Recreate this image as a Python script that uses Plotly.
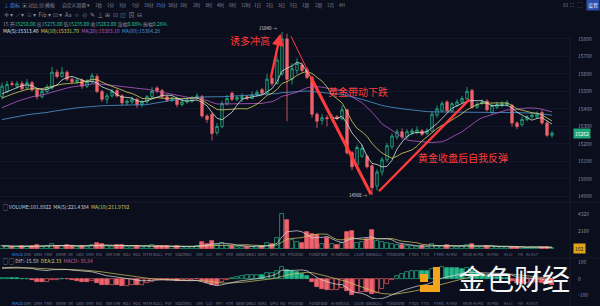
import pandas as pd
import plotly.graph_objects as go

W, H = 600, 306
PLOT_W = 570  # plot area width; right 30px hold the price scale

# ---- closes before the visible window (warm-up for the moving averages) ----
warmup_close = [15150, 15170, 15160, 15190, 15210, 15200, 15230, 15250, 15240, 15270,
                15290, 15280, 15310, 15330, 15320, 15350, 15370, 15360, 15390, 15400,
                15420, 15410, 15440, 15450, 15430, 15460, 15480, 15470, 15490, 15460]

# ---- visible candles ----
open_ = [15470, 15500, 15545, 15530, 15545, 15520, 15550, 15510, 15470, 15500,
         15520, 15610, 15585, 15610, 15570, 15555, 15565, 15530, 15555, 15585,
         15500, 15455, 15475, 15505, 15475, 15435, 15440, 15455, 15425, 15440,
         15470, 15520, 15505, 15470, 15450, 15460, 15425, 15440, 15445, 15460,
         15470, 15360, 15370, 15265, 15300, 15430, 15490, 15455, 15460, 15470,
         15460, 15480, 15510, 15490, 15575, 15545, 15600, 15800, 15570, 15620,
         15650, 15625, 15580, 15370, 15335, 15350, 15345, 15355, 15345, 15395,
         15150, 15080, 15130, 15130, 15075, 14960, 15040, 15110, 15185, 15240,
         15270, 15240, 15265, 15265, 15275, 15260, 15275, 15365, 15390, 15440,
         15390, 15420, 15440, 15460, 15505, 15410, 15430, 15445, 15380, 15410,
         15420, 15425, 15420, 15320, 15310, 15340, 15355, 15355, 15380, 15320,
         15250]
high = [15550, 15560, 15560, 15560, 15560, 15570, 15560, 15520, 15510, 15540,
        15640, 15625, 15640, 15620, 15580, 15575, 15575, 15570, 15605, 15600,
        15510, 15490, 15515, 15515, 15485, 15455, 15470, 15465, 15450, 15480,
        15525, 15530, 15515, 15480, 15470, 15470, 15455, 15460, 15475, 15490,
        15480, 15370, 15380, 15320, 15445, 15480, 15500, 15475, 15490, 15480,
        15500, 15510, 15520, 15600, 15585, 15700, 15840, 15830, 15660, 15690,
        15665, 15640, 15590, 15380, 15370, 15365, 15370, 15365, 15420, 15400,
        15160, 15195, 15195, 15140, 15085, 15055, 15125, 15205, 15260, 15285,
        15290, 15285, 15290, 15300, 15285, 15290, 15390, 15420, 15445, 15450,
        15440, 15455, 15475, 15525, 15515, 15440, 15455, 15455, 15430, 15440,
        15445, 15450, 15430, 15330, 15355, 15365, 15375, 15385, 15395, 15330,
        15275]
low = [15455, 15490, 15530, 15515, 15505, 15510, 15500, 15455, 15460, 15490,
       15510, 15575, 15580, 15560, 15545, 15545, 15515, 15520, 15545, 15490,
       15440, 15430, 15465, 15465, 15420, 15420, 15430, 15405, 15410, 15430,
       15460, 15490, 15460, 15440, 15440, 15410, 15415, 15430, 15435, 15455,
       15350, 15320, 15220, 15250, 15290, 15420, 15445, 15445, 15440, 15450,
       15455, 15470, 15480, 15485, 15530, 15540, 15590, 15330, 15540, 15600,
       15610, 15570, 15350, 15290, 15310, 15300, 15330, 15335, 15335, 15140,
       15050, 15070, 15120, 15060, 14908, 14935, 15020, 15095, 15170, 15225,
       15225, 15230, 15250, 15255, 15245, 15250, 15270, 15350, 15385, 15380,
       15380, 15410, 15430, 15450, 15400, 15400, 15425, 15385, 15370, 15400,
       15410, 15415, 15300, 15285, 15300, 15330, 15345, 15345, 15310, 15240,
       15235]
close = [15530, 15540, 15540, 15545, 15515, 15550, 15510, 15470, 15500, 15525,
         15610, 15585, 15610, 15570, 15555, 15565, 15530, 15555, 15590, 15500,
         15455, 15475, 15500, 15475, 15435, 15445, 15455, 15425, 15440, 15470,
         15500, 15505, 15470, 15450, 15460, 15425, 15440, 15450, 15465, 15475,
         15360, 15340, 15260, 15300, 15430, 15460, 15455, 15465, 15470, 15462,
         15480, 15495, 15490, 15570, 15545, 15680, 15800, 15570, 15630, 15660,
         15620, 15580, 15370, 15330, 15350, 15345, 15355, 15345, 15395, 15150,
         15070, 15180, 15175, 15070, 14950, 15040, 15110, 15190, 15245, 15270,
         15240, 15270, 15275, 15280, 15255, 15275, 15370, 15400, 15430, 15390,
         15430, 15440, 15460, 15500, 15410, 15425, 15440, 15395, 15420, 15425,
         15430, 15435, 15320, 15300, 15340, 15355, 15365, 15370, 15320, 15250,
         15262]
volume = [380, 330, 235, 280, 420, 330, 375, 515, 280, 330,
          660, 420, 375, 470, 330, 235, 420, 280, 515, 705,
          565, 330, 280, 470, 515, 235, 280, 420, 235, 330,
          470, 375, 420, 330, 235, 420, 280, 235, 280, 330,
          895, 565, 1035, 515, 750, 420, 375, 235, 280, 235,
          280, 330, 375, 800, 565, 1410, 4320, 3525, 1130, 895,
          750, 2160, 1835, 1690, 660, 1410, 565, 515, 800, 2115,
          2210, 800, 895, 1220, 2300, 1035, 895, 800, 660, 515,
          470, 375, 330, 280, 420, 280, 565, 420, 375, 515,
          330, 280, 375, 470, 565, 280, 235, 420, 330, 235,
          280, 190, 215, 205, 220, 182.6, 250, 280, 230, 245.3,
          101.8922]

price_ticks = [14900, 15000, 15100, 15200, 15300, 15400, 15500, 15600, 15700, 15800]
macd_ticks = [-100, 0, 100]

period_labels = ["1秒", "1分", "3分", "5分", "10分", "15分", "30分", "1时", "2时", "3时",
                 "4时", "6时", "12时", "1日", "2日", "3日", "5日", "1周", "2周", "1月", "4H"]
indicator_labels = ["MACD", "DMI", "DMA", "TRIX", "BRAR", "VR", "OBV", "EMV", "RSI", "WR",
                    "SAR", "KDJ", "ROC", "MTM", "BOLL", "PSY", "StochRSI", "SMI", "CCI", "MFI",
                    "ATR", "BBW", "DKDJ", "BIAS", "DPO", "AD", "PriceVol", "FundFlow",
                    "AI-NetVOL", "LSUR", "BBIBOLL", "Trivolume", "FTDS", "TTIS", "FTMS",
                    "AI-RSI", "MUR", "AI-PD", "AI-PDI", "AI-LI", "FR", "AI-EST"]

# ---- derived series ----
n = len(close)
idx = list(range(n))
nw = len(warmup_close)
full_close = pd.Series(warmup_close + close, dtype=float)


def sma(k):
    return full_close.rolling(k, min_periods=1).mean().iloc[nw:].to_numpy()


ma5, ma10, ma20, ma60 = sma(5), sma(10), sma(20), sma(60)

vol = pd.Series(volume, dtype=float)
vma5 = vol.rolling(5, min_periods=1).mean().to_numpy()
vma10 = vol.rolling(10, min_periods=1).mean().to_numpy()
vmax = max(volume)
volume_ticks = [vmax / 2, vmax]

ema12 = full_close.ewm(span=12, adjust=False).mean()
ema26 = full_close.ewm(span=26, adjust=False).mean()
dif_full = ema12 - ema26
dea_full = dif_full.ewm(span=9, adjust=False).mean()
dif = dif_full.iloc[nw:].to_numpy()
dea = dea_full.iloc[nw:].to_numpy()
hist_full = 2 * (dif_full - dea_full)
hist = hist_full.iloc[nw:].to_numpy()
hist_prev = hist_full.shift(1).iloc[nw:].to_numpy()

# ---- palette ----
BG = "#0b0e1c"
GRID = "#11162a"
RED = "#f0636c"
GREEN = "#26b98a"
TXT = "#868c9c"
CLEAR = "rgba(0,0,0,0)"
FONT = "Noto Sans CJK SC, Noto Sans, sans-serif"

up = [c >= o for o, c in zip(open_, close)]
vol_fill = [CLEAR if u else RED for u in up]
vol_line = [GREEN if u else RED for u in up]
macd_fill, macd_line = [], []
for h, hp in zip(hist, hist_prev):
    col = GREEN if h >= 0 else RED
    macd_line.append(col)
    macd_fill.append(CLEAR if h >= hp else col)

fig = go.Figure()

# price panel
fig.add_trace(go.Candlestick(
    x=idx, open=open_, high=high, low=low, close=close,
    increasing=dict(line=dict(color=GREEN, width=0.8), fillcolor=CLEAR),
    decreasing=dict(line=dict(color=RED, width=0.8), fillcolor=RED),
    whiskerwidth=0, xaxis="x", yaxis="y", showlegend=False, hoverinfo="skip"))
for series, colr in [(ma60, "#4f97d6"), (ma20, "#b45cc8"), (ma10, "#d6cf62"), (ma5, "#cfe6d6")]:
    fig.add_trace(go.Scatter(x=idx, y=series, mode="lines", line=dict(color=colr, width=0.8),
                             xaxis="x", yaxis="y", showlegend=False, hoverinfo="skip"))

# volume panel
fig.add_trace(go.Bar(x=idx, y=volume, marker=dict(color=vol_fill, line=dict(color=vol_line, width=0.7)),
                     width=0.62, xaxis="x", yaxis="y2", showlegend=False, hoverinfo="skip"))
fig.add_trace(go.Scatter(x=idx, y=vma10, mode="lines", line=dict(color="#d6cf62", width=0.7),
                         xaxis="x", yaxis="y2", showlegend=False, hoverinfo="skip"))
fig.add_trace(go.Scatter(x=idx, y=vma5, mode="lines", line=dict(color="#d9dde6", width=0.7),
                         xaxis="x", yaxis="y2", showlegend=False, hoverinfo="skip"))

# MACD panel
fig.add_trace(go.Bar(x=idx, y=hist, marker=dict(color=macd_fill, line=dict(color=macd_line, width=0.7)),
                     width=0.62, xaxis="x", yaxis="y3", showlegend=False, hoverinfo="skip"))
fig.add_trace(go.Scatter(x=idx, y=dea, mode="lines", line=dict(color="#d6c862", width=0.7),
                         xaxis="x", yaxis="y3", showlegend=False, hoverinfo="skip"))
fig.add_trace(go.Scatter(x=idx, y=dif, mode="lines", line=dict(color="#dcdcdc", width=0.7),
                         xaxis="x", yaxis="y3", showlegend=False, hoverinfo="skip"))


def py(p):
    """pixel row -> paper y"""
    return 1 - p / H


def px(p):
    """pixel column -> paper x"""
    return p / PLOT_W


axis_common = dict(side="right", showline=False, zeroline=False, ticks="",
                   tickfont=dict(size=5, color=TXT, family=FONT), ticklabelstandoff=7,
                   fixedrange=True)

fig.update_layout(
    width=W, height=H, margin=dict(l=0, r=W - PLOT_W, t=0, b=0),
    paper_bgcolor=BG, plot_bgcolor=BG, font=dict(family=FONT, color=TXT),
    bargap=0, showlegend=False,
    xaxis=dict(range=[-0.4, (PLOT_W / 5) - 0.4], visible=False, rangeslider=dict(visible=False),
               fixedrange=True),
    yaxis=dict(domain=[py(200), py(30)], range=[14880, 15851], tickvals=price_ticks,
               ticktext=[str(v) for v in price_ticks],
               showgrid=True, gridcolor=GRID, gridwidth=0.6, **axis_common),
    yaxis2=dict(domain=[py(249), py(205)], range=[0, vmax * 44 / 35], tickvals=volume_ticks,
                ticktext=[f"{v:.0f}" for v in volume_ticks], showgrid=False, **axis_common),
    yaxis3=dict(domain=[py(299), py(259)], range=[-120, 120], tickvals=macd_ticks,
                ticktext=[str(v) for v in macd_ticks], showgrid=False, **axis_common),
)

ann = []
shapes = []


def text(x, y, s, size=5, color=TXT, anchor="left", **kw):
    ann.append(dict(x=px(x), y=py(y), xref="paper", yref="paper", text=s, showarrow=False,
                    xanchor=anchor, yanchor="middle", font=dict(size=size, color=color, family=FONT), **kw))


# toolbar row
text(2, 5, "⊥ 指标", size=5, color="#4d8ff0")
text(20, 5, "▣ 对比", size=5)
text(37, 5, "▤ 模板", size=5)
text(60, 5, "自定义周期 ▾", size=4.8)
for k, lab in enumerate(period_labels):
    text(93 + k * 12.2, 5, lab, size=4.6, color="#4d8ff0" if k == 5 else TXT)
text(561, 5, "⊡  ⛶  ⬚", size=5.5)
ann.append(dict(x=px(593), y=py(5), xref="paper", yref="paper", text="设置", showarrow=False,
                xanchor="center", yanchor="middle", bgcolor="#2c4fa8", borderpad=1,
                font=dict(size=5, color="#dfe6f5", family=FONT)))

# drawing tools row
text(2, 15, "✛ ▾  ⟋ ▾  ≡ ▾  Fib ▾  ⊡ ▾  Aa  ☺  ⊘  ✎  ⊥  ⊞  ⊡  ◫  ⊠  ⊟", size=5.5)

# OHLC row for the latest candle
o, h_, l_, c = open_[-1], high[-1], low[-1], close[-1]
chg = (c - close[-2]) / close[-2] * 100
amp = (h_ - l_) / close[-2] * 100
ohlc = (f"15 开<span style='color:#26c29a'>{o:.2f}</span> 高<span style='color:#26c29a'>{h_:.2f}</span> "
        f"低<span style='color:#26c29a'>{l_:.2f}</span> 收<span style='color:#26c29a'>{c:.2f}</span> "
        f"涨幅<span style='color:#26c29a'>{chg:.2f}%</span> 振幅<span style='color:#26c29a'>{amp:.2f}%</span>")
text(1, 24, ohlc, size=5)
text(1, 31, f"<span style='color:#dfe3ea'>MA(5):{ma5[-1]:.2f}</span>  "
            f"<span style='color:#d6cf62'>MA(10):{ma10[-1]:.2f}</span>  "
            f"<span style='color:#b45cc8'>MA(20):{ma20[-1]:.2f}</span>  "
            f"<span style='color:#4f97d6'>MA(60):{ma60[-1]:.2f}</span>", size=5)

# volume & MACD legends
text(1, 207, f"▢ VOLUME:{volume[-1]:.4f}  MA(5):{vma5[-1]:.4f}  "
             f"<span style='color:#d6cf62'>MA(10):{vma10[-1]:.4f}</span>", size=5, color="#c9ced8")
text(1, 261, f"▢ ▢ DIF:{dif[-1]:.2f}  <span style='color:#d6cf62'>DEA:{dea[-1]:.2f}</span>  "
             f"<span style='color:#c0609a'>MACD:{hist[-1]:.2f}</span>", size=5, color="#c9ced8")

# indicator selector rows
for yrow in (254, 302.5):
    xcur = 10
    for k, lab in enumerate(indicator_labels):
        text(xcur, yrow, lab, size=4, color="#4d8ff0" if k == 0 else "#70778a")
        xcur += len(lab) * 2.3 + 3.0

# last price / last volume markers on the scales
ann.append(dict(x=1, y=close[-1], xref="paper", yref="y", text=f"{close[-1]:.0f}", showarrow=False,
                xanchor="left", yanchor="middle", xshift=3, bgcolor="#1fa77c", borderpad=1,
                font=dict(size=5, color="#ffffff", family=FONT)))
ann.append(dict(x=1, y=volume[-1], xref="paper", yref="y2", text=f"{volume[-1]:.0f}", showarrow=False,
                xanchor="left", yanchor="middle", xshift=3, bgcolor="#e0a31c", borderpad=1,
                font=dict(size=5, color="#1a1a1a", family=FONT)))

# extreme marks
i_hi = high.index(max(high))
i_lo = low.index(min(low))
ann.append(dict(x=i_hi - 0.6, y=max(high), xref="x", yref="y", text=f"{max(high):.0f} →", showarrow=False,
                xanchor="right", yanchor="bottom", yshift=-1, font=dict(size=4.5, color="#d0d4dc", family=FONT)))
ann.append(dict(x=i_lo - 0.6, y=min(low), xref="x", yref="y", text=f"{min(low):.0f} →", showarrow=False,
                xanchor="right", yanchor="middle", font=dict(size=4.5, color="#d0d4dc", family=FONT)))

# commentary: arrows and captions
ARROW = "#ff3b3b"
ann.append(dict(x=i_hi - 0.3, y=max(high) - 10, ax=i_hi - 2.3, ay=15570, xref="x", yref="y",
                axref="x", ayref="y", showarrow=True, arrowhead=2, arrowsize=1, arrowwidth=2.4,
                arrowcolor=ARROW, text=""))
shapes.append(dict(type="line", xref="x", yref="y", x0=i_hi + 1.8, y0=15815, x1=i_hi + 5.8, y1=15580,
                   line=dict(color=ARROW, width=1)))
shapes.append(dict(type="line", xref="x", yref="y", x0=i_hi + 5.8, y0=15580, x1=i_lo - 0.2, y1=min(low) + 5,
                   line=dict(color=ARROW, width=3)))
shapes.append(dict(type="line", xref="x", yref="y", x0=i_lo + 1.4, y0=14930, x1=93.5, y1=15455,
                   line=dict(color=ARROW, width=2.4)))
text(250, 41, "诱多冲高", size=10, color=ARROW, anchor="center")
text(358, 91, "黄金带动下跌", size=10, color=ARROW, anchor="center")
text(463, 157, "黄金收盘后自我反弹", size=10, color=ARROW, anchor="center")

# panel separators and scale divider
for yline in (202, 258):
    shapes.append(dict(type="line", xref="paper", yref="paper", x0=0, x1=W / PLOT_W, y0=py(yline), y1=py(yline),
                       line=dict(color="#1a2032", width=0.8)))
shapes.append(dict(type="line", xref="paper", yref="paper", x0=1, x1=1, y0=0, y1=py(35),
                   line=dict(color="#1a2032", width=0.8)))

# watermark logo
LOGO = "#f2a51c"
shapes.append(dict(type="rect", xref="paper", yref="paper", x0=px(433), x1=px(440), y0=py(292), y1=py(267),
                   fillcolor=LOGO, line=dict(width=0)))
shapes.append(dict(type="rect", xref="paper", yref="paper", x0=px(420), x1=px(440), y0=py(292), y1=py(285),
                   fillcolor=LOGO, line=dict(width=0)))
shapes.append(dict(type="rect", xref="paper", yref="paper", x0=px(420), x1=px(428), y0=py(282), y1=py(274),
                   fillcolor=LOGO, line=dict(width=0)))
text(514, 278, "金色财经", size=28, color="#f4f4f4", anchor="center")

fig.update_layout(annotations=ann, shapes=shapes)
fig.write_html("out.html", config=dict(displayModeBar=False))
